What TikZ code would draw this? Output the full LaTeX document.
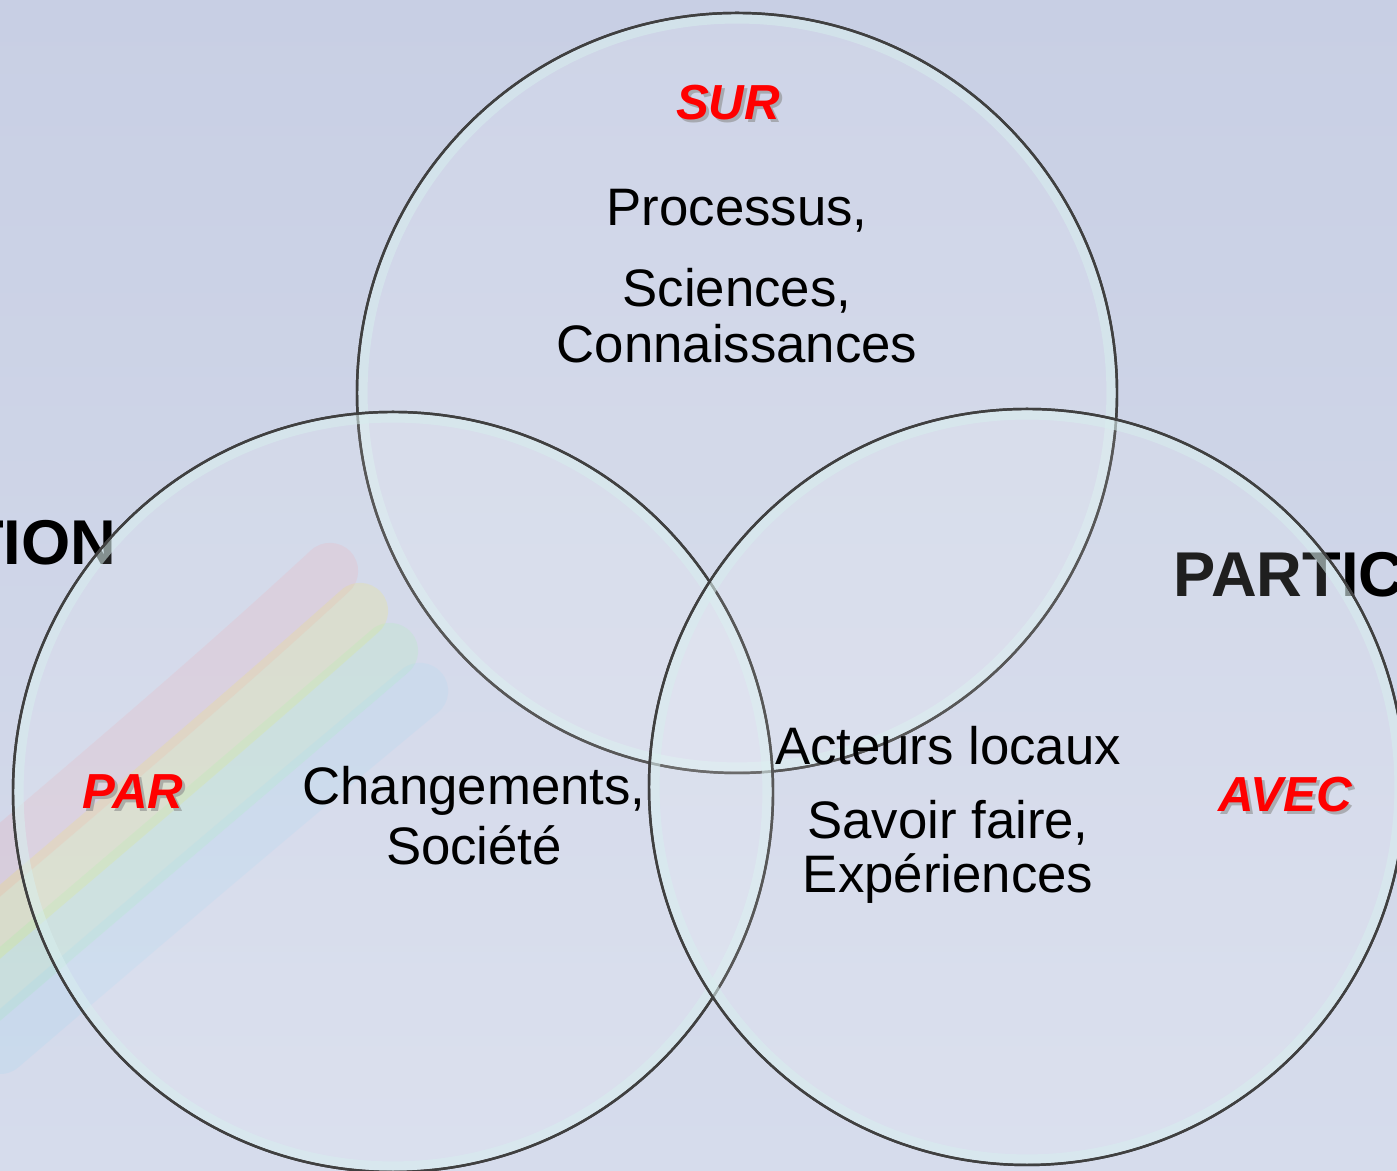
\documentclass[tikz,border=0pt]{standalone}
\usepackage{fontspec}
\setmainfont{Liberation Sans}
\usepackage{xcolor}
\usetikzlibrary{positioning,calc}
\definecolor{skyback}{RGB}{200,207,228}
\definecolor{skylow}{RGB}{214,220,236}
\definecolor{bubblerim}{RGB}{215,238,238}

\begin{document}
\begin{tikzpicture}[x=0.01cm, y=0.01cm,
    every node/.style={font=\fontsize{15}{18}\selectfont, align=center, inner sep=0pt},
    bubble/.style={fill=white, fill opacity=0.12, draw=black!75, draw opacity=1, line width=0.7pt},
    rim/.style={draw=bubblerim, line width=2.6pt, opacity=0.55},
    keyword/.style={font=\fontsize{14}{16}\selectfont\bfseries\itshape, text=red},
    kwshadow/.style={font=\fontsize{14}{16}\selectfont\bfseries\itshape, text=black!45, opacity=0.6},
    heading/.style={font=\fontsize{18}{20}\selectfont\bfseries}]

  % sky background
  \useasboundingbox (0,0) rectangle (1397,1171);
  \shade[top color=skyback, bottom color=skylow] (0,0) rectangle (1397,1171);

  % faint rainbow band, lower left
  \begin{scope}[opacity=0.13, line width=16pt, line cap=round]
    \draw[red!50]    (-60,260) .. controls (80,380) and (200,480) .. (330,600);
    \draw[yellow]    (-40,215) .. controls (100,335) and (225,440) .. (360,560);
    \draw[green!50]  (-20,170) .. controls (120,290) and (250,400) .. (390,520);
    \draw[cyan!50]   (0,125)   .. controls (140,245) and (275,360) .. (420,480);
  \end{scope}

  % cut-off headings
  \node[heading, anchor=east] (action) at (117,628) {TION};
  \node[heading, anchor=west] (partic) at (1173,596) {PARTIC};

  % three bubbles
  \coordinate (ctop)   at (737,778);
  \coordinate (cleft)  at (393,379);
  \coordinate (cright) at (1027,384);
  \foreach \c/\r in {ctop/380, cleft/380, cright/378} {
    \fill[bubble] (\c) circle[radius=\r];
    \draw[rim] (\c) circle[radius=\r-6];
    \draw[black!75, line width=0.7pt] (\c) circle[radius=\r];
  }

  % keywords
  \node[kwshadow] at (731,1065) {SUR};
  \node[keyword] (sur) at (728,1068) {SUR};
  \node[kwshadow] at (136,376) {PAR};
  \node[keyword] (par) at (133,379) {PAR};
  \node[kwshadow] at (1288,373) {AVEC};
  \node[keyword] (avec) at (1285,376) {AVEC};

  % top bubble
  \node (processus) at (737,960) {Processus,};
  \node (sciences) at (737,880) {Sciences,};
  \node (connaiss) at (737,827) {Connaissances};

  % left bubble
  \node (changements) at (474,380) {Changements,};
  \node (societe) at (474,326) {Société};

  % right bubble
  \node (acteurs) at (948,425) {Acteurs locaux};
  \node (savoir) at (948,348) {Savoir faire,};
  \node (experiences) at (948,292) {Expériences};
\end{tikzpicture}
\end{document}
